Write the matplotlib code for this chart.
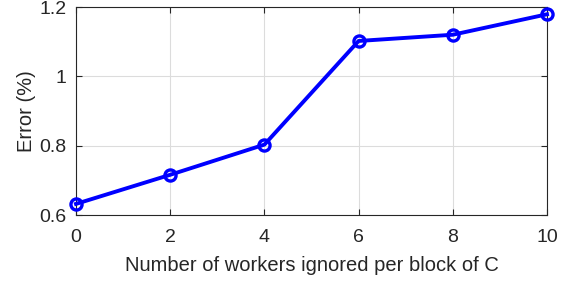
import matplotlib
matplotlib.use("Agg")
import matplotlib.pyplot as plt

workers_ignored = [0, 2, 4, 6, 8, 10]
error_pct = [0.632, 0.716, 0.803, 1.102, 1.120, 1.179]

plt.rcParams["font.family"] = ["Liberation Sans", "DejaVu Sans"]

fig = plt.figure(figsize=(5.7, 2.81), dpi=100)
ax = fig.add_axes([76 / 570, 1 - 215 / 281, (547 - 76) / 570, (215 - 7) / 281])

ax.plot(workers_ignored, error_pct, color="#0000ff", linewidth=2.8,
        marker="o", markersize=8, markerfacecolor="none",
        markeredgewidth=2.4, clip_on=False, zorder=3)

ax.set_xlim(0, 10)
ax.set_ylim(0.6, 1.2)
ax.set_xticks([0, 2, 4, 6, 8, 10])
ax.set_yticks([0.6, 0.8, 1.0, 1.2])
ax.set_yticklabels(["0.6", "0.8", "1", "1.2"])
ax.grid(True, color="#dcdcdc", linewidth=0.8)
ax.set_axisbelow(True)
ax.tick_params(direction="in", top=True, right=True, length=4,
               labelsize=14, colors="#262626", width=0.8)
ax.tick_params(axis="x", pad=10)
ax.tick_params(axis="y", pad=7)
for s in ax.spines.values():
    s.set_color("#262626")
    s.set_linewidth(0.8)

ax.set_xlabel("Number of workers ignored per block of C", fontsize=14.5,
              color="#262626", labelpad=7)
ax.set_ylabel("Error (%)", fontsize=14.5, color="#262626", labelpad=2)

fig.savefig("out.png", dpi=100)
